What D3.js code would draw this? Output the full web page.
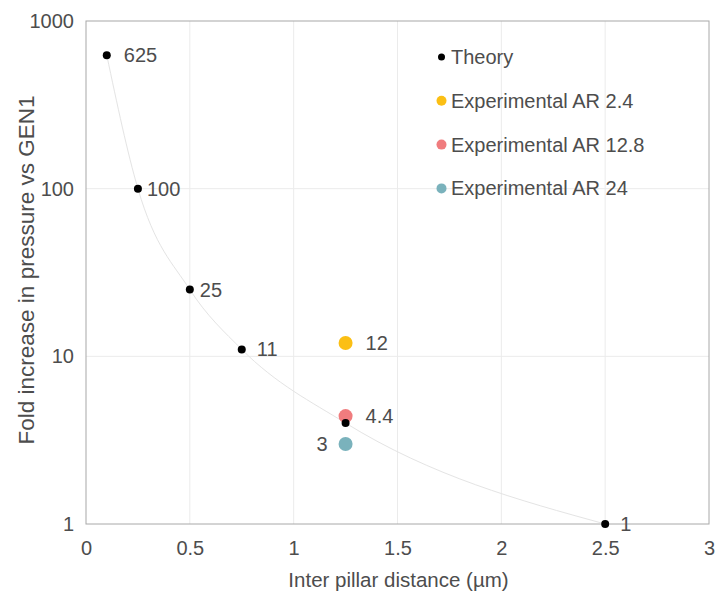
<!DOCTYPE html>
<html>
<head>
<meta charset="utf-8">
<script src="https://cdn.jsdelivr.net/npm/d3@7"></script>
<style>
  html, body { margin: 0; padding: 0; background: #fff; }
  svg text { font-family: "Liberation Sans", Arial, sans-serif; fill: #4d4d4d; }
</style>
</head>
<body>
<svg id="chart" width="716" height="591"></svg>
<script>
// Theoretical fold increase versus inter-pillar distance
const theoryX = [0.1, 0.25, 0.5, 0.75, 1.25, 2.5];
const theoryY = [625, 100, 25, 11, 4, 1];
const theoryLabels = ["625", "100", "25", "11", "", "1"];

// Experimental measurements at 1.25 µm
const expNames = ["Experimental AR 2.4", "Experimental AR 12.8", "Experimental AR 24"];
const expX = [1.25, 1.25, 1.25];
const expY = [12, 4.4, 3];
const expLabels = ["12", "4.4", "3"];
const expColors = ["#fbbf14", "#f07c7e", "#7ab2bc"];

const xTicks = [0, 0.5, 1, 1.5, 2, 2.5, 3];
const xTickLabels = ["0", "0.5", "1", "1.5", "2", "2.5", "3"];
const yTicks = [1, 10, 100, 1000];
const yTickLabels = ["1", "10", "100", "1000"];

const svg = d3.select("#chart");
const m = { left: 86, right: 7, top: 21, bottom: 67 };
const W = 716, H = 591;

const x = d3.scaleLinear().domain([0, 3]).range([m.left, W - m.right]);
const y = d3.scaleLog().domain([1, 1000]).range([H - m.bottom, m.top]);

// grid
const grid = svg.append("g");
grid.selectAll("line.vx").data(xTicks.slice(1, -1)).join("line")
  .attr("x1", d => x(d)).attr("x2", d => x(d))
  .attr("y1", y(1)).attr("y2", y(1000))
  .attr("stroke", "#ebebeb").attr("stroke-width", 1);
grid.selectAll("line.hy").data(yTicks.slice(1, -1)).join("line")
  .attr("x1", x(0)).attr("x2", x(3))
  .attr("y1", d => y(d)).attr("y2", d => y(d))
  .attr("stroke", "#ebebeb").attr("stroke-width", 1);

// frame
svg.append("rect")
  .attr("x", x(0)).attr("y", y(1000))
  .attr("width", x(3) - x(0)).attr("height", y(1) - y(1000))
  .attr("fill", "none").attr("stroke", "#a8a8a8").attr("stroke-width", 1);

// axes
const xAxis = d3.axisBottom(x).tickValues(xTicks)
  .tickFormat((d, i) => xTickLabels[i]).tickSize(0).tickPadding(17);
const gx = svg.append("g").attr("transform", `translate(0,${y(1)})`).call(xAxis);
gx.select(".domain").remove();
gx.selectAll("text").style("font-size", "20px").attr("fill", "#555");

const yAxis = d3.axisLeft(y).tickValues(yTicks)
  .tickFormat((d, i) => yTickLabels[i]).tickSize(0).tickPadding(12);
const gy = svg.append("g").attr("transform", `translate(${x(0)},0)`).call(yAxis);
gy.select(".domain").remove();
gy.selectAll("text").style("font-size", "20px").attr("fill", "#555");

// axis titles
svg.append("text")
  .attr("x", (x(0) + x(3)) / 2 + 1).attr("y", 587)
  .attr("text-anchor", "middle").style("font-size", "20.5px")
  .text("Inter pillar distance (µm)");
svg.append("text")
  .attr("transform", `translate(34,270) rotate(-90)`)
  .attr("text-anchor", "middle").style("font-size", "22.5px")
  .text("Fold increase in pressure vs GEN1");

// theory curve
const theory = theoryX.map((v, i) => ({ x: v, y: theoryY[i], label: theoryLabels[i] }));
const line = d3.line().x(d => x(d.x)).y(d => y(d.y)).curve(d3.curveMonotoneX);
svg.append("path").datum(theory).attr("d", line)
  .attr("fill", "none").attr("stroke", "#e4e4e4").attr("stroke-width", 1);

// experimental points
const exp = expX.map((v, i) => ({ x: v, y: expY[i], label: expLabels[i], color: expColors[i], name: expNames[i] }));
svg.selectAll("circle.exp").data(exp).join("circle")
  .attr("cx", d => x(d.x)).attr("cy", d => y(d.y)).attr("r", 7)
  .attr("fill", d => d.color);

// theory points
svg.selectAll("circle.th").data(theory).join("circle")
  .attr("cx", d => x(d.x)).attr("cy", d => y(d.y)).attr("r", 4)
  .attr("fill", "#000");

// value labels
const thOffsets = [17, 9, 10, 15, 0, 15];
svg.selectAll("text.thl").data(theory.filter(d => d.label)).join("text")
  .attr("x", d => x(d.x) + thOffsets[theory.indexOf(d)])
  .attr("y", d => y(d.y) + 7)
  .style("font-size", "20px")
  .text(d => d.label);

const expOffsets = [20, 20, -18];
svg.selectAll("text.expl").data(exp).join("text")
  .attr("x", (d, i) => x(d.x) + expOffsets[i])
  .attr("y", d => y(d.y) + 7)
  .attr("text-anchor", (d, i) => expOffsets[i] < 0 ? "end" : "start")
  .style("font-size", "20px")
  .text(d => d.label);

// legend
const legend = svg.append("g");
const legendItems = [{ name: "Theory", color: "#000", r: 3.5 }]
  .concat(exp.map(d => ({ name: d.name, color: d.color, r: 5 })));
legendItems.forEach((d, i) => {
  const ly = 57 + i * 43.8;
  legend.append("circle").attr("cx", 441.5).attr("cy", ly).attr("r", d.r).attr("fill", d.color);
  legend.append("text").attr("x", 451).attr("y", ly + 7)
    .style("font-size", "20px").text(d.name);
});
</script>
</body>
</html>
